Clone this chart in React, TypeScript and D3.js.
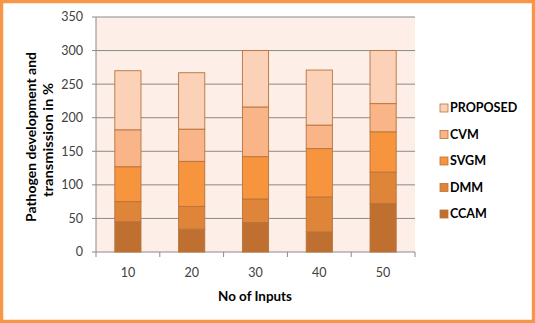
import React from "react";
import * as d3 from "d3";

const categories = ["10", "20", "30", "40", "50"];
const seriesNames = ["CCAM", "DMM", "SVGM", "CVM", "PROPOSED"];
const CCAM = [45, 34, 44, 30, 72];
const DMM = [30, 34, 35, 52, 47];
const SVGM = [52, 67, 63, 72, 60];
const CVM = [55, 48, 74, 35, 42];
const PROPOSED = [88, 84, 84, 82, 79];
const yTicks = [0, 50, 100, 150, 200, 250, 300, 350];
const colors = ["#BF6F2F", "#DE8539", "#F7953F", "#F9B487", "#FBD2B8"];

const W = 535, H = 323;
const plot = { left: 96, right: 415, top: 17, bottom: 252 };

export default function App() {
  const seriesVals = [CCAM, DMM, SVGM, CVM, PROPOSED];
  const rows = categories.map((c, i) => {
    const r: any = { cat: c };
    seriesNames.forEach((s, j) => (r[s] = seriesVals[j][i]));
    return r;
  });
  const stacked = d3.stack().keys(seriesNames)(rows);
  const x = d3.scaleBand().domain(categories).range([plot.left, plot.right]).paddingInner(0.59).paddingOuter(0.295);
  const xb = d3.scaleBand().domain(categories).range([plot.left, plot.right]);
  const y = d3.scaleLinear().domain([0, 350]).range([plot.bottom, plot.top]);
  const font = "Lato, 'Open Sans', sans-serif";
  return (
    <div style={{ position: "absolute", left: 0, top: 0 }}>
      <svg width={W} height={H} style={{ display: "block" }}>
        <rect x={0} y={0} width={W} height={H} fill="#FFFFFF" />
        <rect x={plot.left} y={plot.top} width={plot.right - plot.left} height={plot.bottom - plot.top} fill="#FDEEE8" />
        {yTicks.map((t) => (
          <g key={t}>
            <line x1={plot.left} x2={plot.right} y1={y(t)} y2={y(t)} stroke="#8A8A8A" strokeWidth={1} />
            <line x1={plot.left - 4} x2={plot.left} y1={y(t)} y2={y(t)} stroke="#8A8A8A" strokeWidth={1} />
            <text x={83} y={y(t)} dy="0.35em" textAnchor="end" fontSize={12.5} fill="#404040" fontFamily={font}>{t}</text>
          </g>
        ))}
        <line x1={plot.left} x2={plot.left} y1={plot.top} y2={plot.bottom} stroke="#8A8A8A" />
        {categories.map((c, i) => (
          <line key={"t" + i} x1={(xb(c) as number)} x2={(xb(c) as number)} y1={plot.bottom} y2={plot.bottom + 5} stroke="#8A8A8A" />
        ))}
        <line x1={plot.right} x2={plot.right} y1={plot.bottom} y2={plot.bottom + 5} stroke="#8A8A8A" />
        {stacked.map((s, si) => (
          <g key={s.key}>
            {s.map((d, i) => (
              <rect key={i} x={x(categories[i])} width={x.bandwidth()} y={y(d[1])} height={y(d[0]) - y(d[1])} fill={colors[si]} stroke="#B8733A" strokeWidth={0.9} />
            ))}
          </g>
        ))}
        {categories.map((c) => (
          <text key={c} x={(x(c) as number) + x.bandwidth() / 2} y={273} dy="0.35em" textAnchor="middle" fontSize={12.5} fill="#404040" fontFamily={font}>{c}</text>
        ))}
        <text x={255} y={297} dy="0.35em" textAnchor="middle" fontSize={12.5} fontWeight="bold" fill="#000" fontFamily={font} textLength={74} lengthAdjust="spacingAndGlyphs">No of Inputs</text>
        <text transform="translate(31,137) rotate(-90)" textAnchor="middle" dy="0.35em" fontSize={13.5} fontWeight="bold" fill="#000" fontFamily={font} textLength={170} lengthAdjust="spacingAndGlyphs">Pathogen development and</text>
        <text transform="translate(48,140) rotate(-90)" textAnchor="middle" dy="0.35em" fontSize={13.5} fontWeight="bold" fill="#000" fontFamily={font} textLength={114} lengthAdjust="spacingAndGlyphs">transmission in %</text>
        {seriesNames.slice().reverse().map((s, k) => {
          const idx = seriesNames.indexOf(s);
          const ly = 108 + k * 26.5;
          return (
            <g key={s}>
              <rect x={440} y={ly - 4} width={8} height={8} fill={colors[idx]} stroke="#B8733A" strokeWidth={0.8} />
              <text x={450} y={ly} dy="0.35em" fontSize={12.5} fontWeight="bold" fill="#000" fontFamily={font}>{s}</text>
            </g>
          );
        })}
        <rect x={1.5} y={1.5} width={W - 3} height={H - 3} fill="none" stroke="#F79646" strokeWidth={3.5} />
      </svg>
    </div>
  );
}
